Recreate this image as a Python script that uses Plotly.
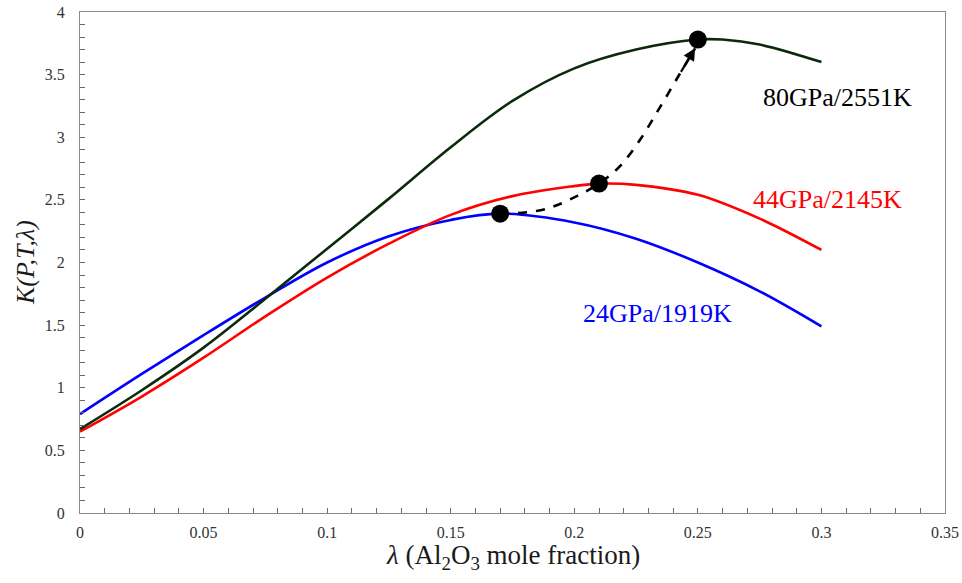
import plotly.graph_objects as go

# --- data ---
lam_blue = [0.0, 0.025, 0.05, 0.075, 0.1, 0.125, 0.15, 0.17, 0.2, 0.225, 0.25, 0.275, 0.3]
k_blue = [0.79, 1.11, 1.42, 1.72, 2.00, 2.21, 2.34, 2.39, 2.32, 2.19, 2.00, 1.77, 1.49]

lam_red = [0.0, 0.025, 0.05, 0.075, 0.1, 0.125, 0.15, 0.175, 0.2, 0.21, 0.225, 0.25, 0.275, 0.3]
k_red = [0.65, 0.93, 1.24, 1.57, 1.88, 2.15, 2.38, 2.53, 2.61, 2.63, 2.62, 2.54, 2.35, 2.10]

lam_black = [0.0, 0.025, 0.05, 0.075, 0.1, 0.125, 0.15, 0.175, 0.2, 0.225, 0.25, 0.26, 0.275, 0.3]
k_black = [0.67, 0.98, 1.32, 1.71, 2.11, 2.51, 2.92, 3.29, 3.55, 3.70, 3.78, 3.78, 3.74, 3.60]

dots_lam = [0.17, 0.21, 0.25]
dots_k = [2.39, 2.63, 3.78]

path_lam = [0.17, 0.1747, 0.1889, 0.201, 0.21, 0.2185, 0.2266, 0.2347, 0.2428, 0.2489]
path_k = [2.39, 2.39, 2.43, 2.53, 2.63, 2.77, 2.98, 3.24, 3.51, 3.71]

labels = ["24GPa/1919K", "44GPa/2145K", "80GPa/2551K"]
label_lam = [0.2335, 0.3025, 0.3065]
label_k = [1.59, 2.50, 3.32]

BLUE = "#0000FF"
RED = "#FF0000"
DKGREEN = "#0B2A0B"
FONT = "Liberation Serif"

fig = go.Figure()
fig.add_trace(go.Scatter(x=lam_blue, y=k_blue, mode="lines", line=dict(color=BLUE, width=2.6, shape="spline")))
fig.add_trace(go.Scatter(x=lam_red, y=k_red, mode="lines", line=dict(color=RED, width=2.6, shape="spline")))
fig.add_trace(go.Scatter(x=lam_black, y=k_black, mode="lines", line=dict(color=DKGREEN, width=2.6, shape="spline")))
fig.add_trace(go.Scatter(x=path_lam, y=path_k, mode="lines",
                         line=dict(color="black", width=2.6, dash="dash", shape="spline")))
fig.add_trace(go.Scatter(x=dots_lam, y=dots_k, mode="markers",
                         marker=dict(color="black", size=18)))

# arrow head at the end of the dashed path
fig.add_annotation(x=path_lam[-1], y=path_k[-1], ax=path_lam[-2], ay=path_k[-2],
                   xref="x", yref="y", axref="x", ayref="y", text="",
                   showarrow=True, arrowhead=2, arrowsize=1.1, arrowwidth=2.2, arrowcolor="black")

colors = [BLUE, RED, "black"]
for t, lx, ly, c in zip(labels, label_lam, label_k, colors):
    fig.add_annotation(x=lx, y=ly, xref="x", yref="y", text=t, showarrow=False,
                       font=dict(family=FONT, size=26, color=c))

# axis titles
fig.add_annotation(x=0.5, y=-0.088, xref="paper", yref="paper", showarrow=False,
                   text="<i>λ</i> (Al<sub>2</sub>O<sub>3</sub> mole fraction)",
                   font=dict(family=FONT, size=27, color="#1a1a1a"), yanchor="middle")
fig.add_annotation(x=-0.063, y=0.5, xref="paper", yref="paper", showarrow=False,
                   text="<i>K(P,T,λ)</i>", textangle=-90,
                   font=dict(family=FONT, size=26, color="#1a1a1a"), xanchor="center")

axis_common = dict(showgrid=False, zeroline=False, showline=True, linecolor="#8a8a8a",
                   linewidth=1.3, mirror=True, ticks="inside", ticklen=5, tickcolor="#6a6a6a",
                   tickwidth=1.2, automargin=False,
                   tickfont=dict(family=FONT, size=16, color="#333333"))

fig.update_xaxes(range=[0, 0.35], dtick=0.05, tick0=0,
                 minor=dict(dtick=0.01, ticks="inside", ticklen=5, tickcolor="#6a6a6a", tickwidth=1.2),
                 ticklabelstandoff=5, **axis_common)
fig.update_yaxes(range=[0, 4], dtick=0.5, tick0=0,
                 minor=dict(dtick=0.1, ticks="inside", ticklen=5, tickcolor="#6a6a6a", tickwidth=1.2),
                 ticklabelstandoff=11, **axis_common)

fig.update_layout(width=962, height=583, showlegend=False,
                  margin=dict(l=80, r=17, t=12, b=70),
                  plot_bgcolor="white", paper_bgcolor="white")

fig.write_html("out.html")
